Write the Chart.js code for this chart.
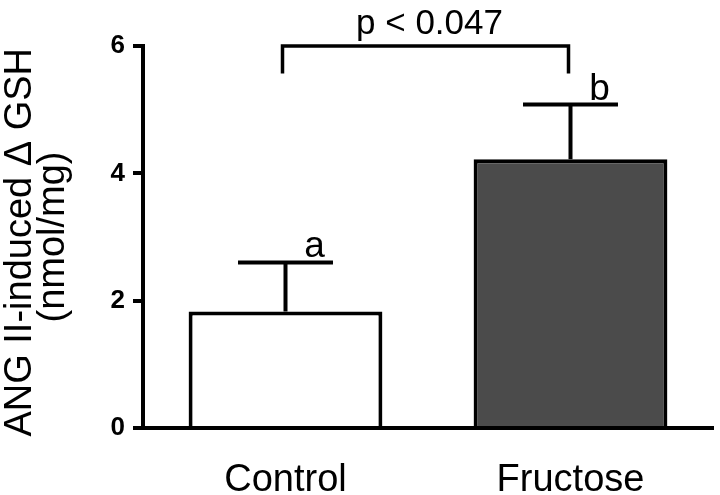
<!DOCTYPE html>
<html>
<head>
<meta charset="utf-8">
<script src="https://cdn.jsdelivr.net/npm/chart.js@4.4.1/dist/chart.umd.min.js"></script>
<style>
  html, body { margin: 0; padding: 0; background: #fff; }
  #chart { display: block; }
</style>
</head>
<body>
<canvas id="chart" width="720" height="495"></canvas>
<script>
const categories = ['Control', 'Fructose'];
const means = [1.83, 4.22];
const sems = [0.77, 0.86];
const groupLetters = ['a', 'b'];
const yTicks = [0, 2, 4, 6];
const pLabel = 'p < 0.047';
const bracketLevel = 6;
const bracketDrop = 5.57;

const FONT = "'Liberation Sans', Arial, Helvetica, sans-serif";

// error bars (upper only), group letters and the p-value bracket
const errorBars = {
    id: 'errorBars',
    afterDatasetsDraw(chart) {
        const ctx = chart.ctx;
        const y = chart.scales.y;
        const bars = chart.getDatasetMeta(0).data;
        ctx.save();
        ctx.strokeStyle = '#000';
        ctx.fillStyle = '#000';
        ctx.lineWidth = 4;
        ctx.lineCap = 'butt';
        ctx.lineJoin = 'miter';
        bars.forEach((bar, i) => {
            const yBase = y.getPixelForValue(means[i]);
            const yTop = y.getPixelForValue(means[i] + sems[i]);
            const half = bar.width * 0.245;
            ctx.beginPath();
            ctx.moveTo(bar.x, yBase);
            ctx.lineTo(bar.x, yTop);
            ctx.moveTo(bar.x - half, yTop);
            ctx.lineTo(bar.x + half, yTop);
            ctx.stroke();
            ctx.font = '37px ' + FONT;
            ctx.textAlign = 'center';
            ctx.textBaseline = 'alphabetic';
            ctx.fillText(groupLetters[i], bar.x + 29, yTop - 5);
        });

        const x0 = bars[0].x - 3, x1 = bars[1].x - 2;
        const yl = y.getPixelForValue(bracketLevel);
        const yd = y.getPixelForValue(bracketDrop);
        ctx.lineWidth = 3.5;
        ctx.beginPath();
        ctx.moveTo(x0, yd);
        ctx.lineTo(x0, yl);
        ctx.lineTo(x1, yl);
        ctx.lineTo(x1, yd);
        ctx.stroke();
        ctx.font = '35px ' + FONT;
        ctx.textAlign = 'center';
        ctx.fillText(pLabel, (x0 + x1) / 2 + 4, yl - 12);
        ctx.restore();
    }
};

new Chart(document.getElementById('chart'), {
    type: 'bar',
    data: {
        labels: categories,
        datasets: [{
            data: means,
            backgroundColor: ['#ffffff', '#4b4b4b'],
            borderColor: '#000',
            borderWidth: 4,
            borderSkipped: 'start',
            categoryPercentage: 1,
            barPercentage: 0.68
        }]
    },
    options: {
        responsive: false,
        animation: false,
        layout: { padding: { top: 46, right: 7, left: 0, bottom: 0 } },
        plugins: { legend: { display: false }, tooltip: { enabled: false } },
        scales: {
            x: {
                z: 1,
                grid: { display: false },
                border: { color: '#000', width: 4 },
                ticks: { color: '#000', font: { family: FONT, size: 38 }, padding: 22, maxRotation: 0 },
                afterFit(s) { s.height = 67; }
            },
            y: {
                min: 0,
                max: 6,
                afterBuildTicks(s) { s.ticks = yTicks.map(v => ({ value: v })); },
                grid: { drawOnChartArea: false, tickLength: 10, lineWidth: 4, color: '#000' },
                border: { color: '#000', width: 4 },
                ticks: { color: '#000', font: { family: FONT, size: 26, weight: 'bold' }, padding: 8 },
                title: {
                    display: true,
                    text: ['ANG II-induced Δ GSH ', '(nmol/mg)'],
                    color: '#000',
                    font: { family: FONT, size: 38, lineHeight: 0.86 },
                    padding: { top: 4, bottom: 0 }
                },
                afterFit(s) { s.width = 143; }
            }
        }
    },
    plugins: [errorBars]
});
</script>
</body>
</html>
